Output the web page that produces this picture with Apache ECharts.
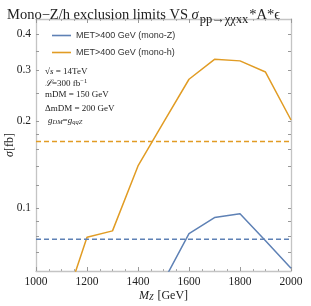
<!DOCTYPE html>
<html><head><meta charset="utf-8">
<script src="https://cdn.jsdelivr.net/npm/echarts@6/dist/echarts.min.js"></script>
<style>html,body{margin:0;padding:0;background:#fff}#c{width:311px;height:306px}</style>
</head><body><div id="c"></div>
<script>
// ---- data ----
const mz      = [1000, 1100, 1200, 1300, 1400, 1500, 1600, 1700, 1800, 1900, 2000];
const monoZ   = [null, null, null, null, null, 0.0557, 0.0815, 0.0926, 0.0955, 0.077, 0.0618];
const monoH   = [null, 0.043, 0.0792, 0.0833, 0.1398, 0.198, 0.279, 0.327, 0.323, 0.2955, 0.2016];
const limitZ  = 0.078;
const limitH  = 0.17;
const xRange  = [1000, 2000];
const yRange  = [0.0605, 0.451];
const xTickLabels = [1000, 1200, 1400, 1600, 1800, 2000];
const yTickLabels = [0.1, 0.2, 0.3, 0.4];
const yMinorTicks = [0.07, 0.08, 0.09, 0.12, 0.14, 0.16, 0.18, 0.25, 0.35];
const seriesNames = ['MET>400 GeV (mono-Z)', 'MET>400 GeV (mono-h)'];

const BLUE = '#5e81b5', ORANGE = '#e19c24';
const SERIF = '"Liberation Serif", "DejaVu Serif", serif';
const SANS = '"Liberation Sans", Arial, sans-serif';

const pair = (xs, ys) => xs.map((x, i) => [x, ys[i]]);
const flat = (v) => [[xRange[0], v], [xRange[1], v]];

const axisLine = {show: true, lineStyle: {color: '#c4c4c4', width: 1.3}};
const tickStyle = {lineStyle: {color: '#999', width: 1}};

const chart = echarts.init(document.getElementById('c'), null, {renderer: 'canvas'});
chart.setOption({
  animation: false,
  backgroundColor: '#fff',
  title: {
    left: 2, top: 0,
    text: '{a|Mono−Z/h exclusion limits VS }{b|σ}{s|pp→χχxx}{a|*A*ϵ}',
    textStyle: {
      fontWeight: 'normal',
      rich: {
        a: {fontFamily: SERIF, fontSize: 14.5, color: '#222', fontWeight: 'normal'},
        b: {fontFamily: SERIF, fontSize: 14.5, color: '#222', fontStyle: 'italic', fontWeight: 'normal'},
        s: {fontFamily: SERIF, fontSize: 12.5, color: '#222', fontWeight: 'normal', verticalAlign: 'bottom', padding: [8, 1, 0, 1]}
      }
    }
  },
  grid: {left: 36, right: 20, top: 19, bottom: 35, containLabel: false, outerBoundsMode: 'none'},
  legend: {
    left: 47, top: 25, orient: 'vertical',
    icon: 'rect', itemWidth: 19, itemHeight: 1.6, itemGap: 6,
    data: seriesNames,
    textStyle: {fontFamily: SANS, fontSize: 9, color: '#333', lineHeight: 11}
  },
  xAxis: [{
    type: 'value', min: xRange[0], max: xRange[1], interval: 200,
    name: '{i|M}{s|Z} [GeV]', nameLocation: 'middle', nameGap: 18, nameMoveOverlap: false,
    nameTextStyle: {rich: {
      i: {fontFamily: SERIF, fontSize: 12, fontStyle: 'italic', color: '#222'},
      s: {fontFamily: SERIF, fontSize: 8, fontStyle: 'italic', color: '#222', verticalAlign: 'bottom', padding: [5, 1, 0, 0]}
    }, fontFamily: SERIF, fontSize: 12, color: '#222'},
    axisLine: axisLine,
    axisTick: Object.assign({inside: true, length: 4}, tickStyle),
    minorTick: {show: true, splitNumber: 4, length: 2, lineStyle: {color: '#aaa'}},
    splitLine: {show: false},
    axisLabel: {fontFamily: SERIF, fontSize: 11.5, color: '#222', margin: 5,
      customValues: xTickLabels, formatter: v => String(v)}
  }, {
    type: 'value', min: xRange[0], max: xRange[1], interval: 200, position: 'top',
    axisLine: axisLine,
    axisTick: Object.assign({inside: true, length: 4}, tickStyle),
    minorTick: {show: true, splitNumber: 4, length: 2, lineStyle: {color: '#aaa'}},
    splitLine: {show: false}, axisLabel: {show: false}
  }],
  yAxis: [{
    type: 'log', logBase: 10, min: yRange[0], max: yRange[1],
    name: '{i|σ}[fb]', nameLocation: 'middle', nameGap: 20, nameRotate: 90, nameMoveOverlap: false,
    nameTextStyle: {rich: {
      i: {fontFamily: SERIF, fontSize: 12, fontStyle: 'italic', color: '#222'}
    }, fontFamily: SERIF, fontSize: 12, color: '#222'},
    axisLine: axisLine,
    axisTick: Object.assign({inside: true, length: 3, customValues: yTickLabels.concat(yMinorTicks)}, tickStyle),
    splitLine: {show: false},
    axisLabel: {fontFamily: SERIF, fontSize: 11.5, color: '#222', margin: 5, interval: 0, hideOverlap: false,
      customValues: yTickLabels, formatter: v => String(+(+v).toFixed(2))}
  }, {
    type: 'log', logBase: 10, min: yRange[0], max: yRange[1], position: 'right',
    axisLine: axisLine,
    axisTick: Object.assign({inside: true, length: 3, customValues: yTickLabels.concat(yMinorTicks)}, tickStyle),
    splitLine: {show: false}, axisLabel: {show: false}
  }],
  series: [
    {name: seriesNames[0], type: 'line', data: pair(mz, monoZ), symbol: 'none', connectNulls: false,
      lineStyle: {color: BLUE, width: 1.5}, itemStyle: {color: BLUE}, clip: true},
    {name: seriesNames[1], type: 'line', data: pair(mz, monoH), symbol: 'none', connectNulls: false,
      lineStyle: {color: ORANGE, width: 1.5}, itemStyle: {color: ORANGE}, clip: true},
    {name: 'limitZ', type: 'line', data: flat(limitZ), symbol: 'none',
      lineStyle: {color: BLUE, width: 1.5, type: [5, 3]}, clip: true},
    {name: 'limitH', type: 'line', data: flat(limitH), symbol: 'none',
      lineStyle: {color: ORANGE, width: 1.5, type: [5, 3]}, clip: true}
  ],
  graphic: [
    {type: 'text', left: 45, top: 67, style: {text: '√{o|s} = 14TeV', font: '9px ' + SERIF, fill: '#222',
      rich: {o: {fontFamily: SERIF, fontSize: 9, fontStyle: 'italic'}}}},
    {type: 'text', left: 45, top: 78, style: {text: '{c|ℒ}=300 fb{u|−1}', font: '9px ' + SERIF, fill: '#222',
      rich: {c: {fontFamily: SERIF, fontSize: 9, fontStyle: 'italic'}, u: {fontFamily: SERIF, fontSize: 6.5, verticalAlign: 'top', padding: [0, 0, 5, 0]}}}},
    {type: 'text', left: 45, top: 90, style: {text: 'mDM = 150 GeV', font: '9px ' + SERIF, fill: '#222'}},
    {type: 'text', left: 45, top: 104, style: {text: 'ΔmDM = 200 GeV', font: '9px ' + SERIF, fill: '#222'}},
    {type: 'text', left: 48, top: 116, style: {text: '{i|g}{s|DM}={i|g}{s|qqZ}', font: '9px ' + SERIF, fill: '#222',
      rich: {i: {fontFamily: SERIF, fontSize: 9, fontStyle: 'italic'}, s: {fontFamily: SERIF, fontSize: 6.5, fontStyle: 'italic', verticalAlign: 'bottom', padding: [4, 0, 0, 0]}}}}
  ]
});
</script></body></html>
